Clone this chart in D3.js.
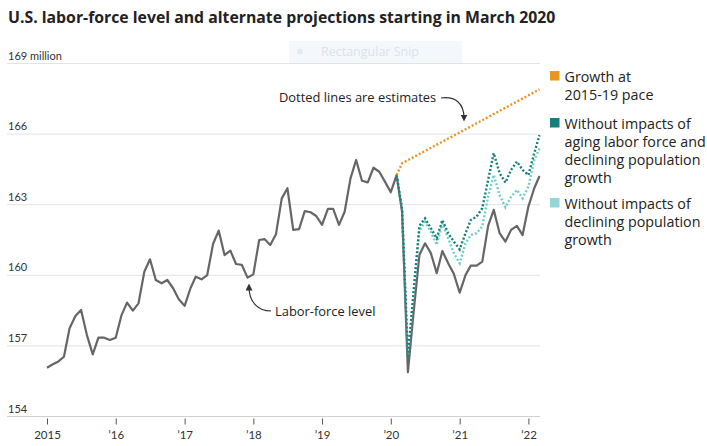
<!DOCTYPE html>
<html>
<head>
<meta charset="utf-8">
<script src="https://cdn.jsdelivr.net/npm/d3@7"></script>
<style>
  body { margin: 0; background: #fff; }
  svg { font-family: 'Open Sans', Lato, sans-serif; }
</style>
</head>
<body>
<div id="canvas"></div>
<script>
// data (monthly, Jan 2015 - Mar 2022, millions)
const startMonth = new Date(2015, 0, 1);

const laborForce = [
  156.07, 156.22, 156.33, 156.54, 157.75, 158.27, 158.53, 157.46, 156.64, 157.35, 157.35, 157.25,
  157.35, 158.31, 158.84, 158.50, 158.81, 160.15, 160.68, 159.80, 159.66, 159.80, 159.45, 158.98,
  158.70, 159.45, 159.94, 159.83, 160.01, 161.33, 161.90, 160.86, 161.05, 160.48, 160.44, 159.90,
  160.04, 161.50, 161.54, 161.29, 161.74, 163.27, 163.70, 161.93, 161.96, 162.73, 162.68, 162.52,
  162.14, 162.82, 162.82, 162.14, 162.70, 164.12, 164.90, 164.02, 163.95, 164.57, 164.40, 163.98,
  163.53, 164.26, 162.70, 155.88, 158.40, 160.86, 161.36, 160.94, 160.09, 161.03, 160.51, 160.06,
  159.26, 160.01, 160.41, 160.41, 160.58, 162.10, 162.78, 161.79, 161.43, 161.93, 162.10, 161.71,
  162.92, 163.70, 164.22
];

// projections start in Feb 2020 (month index 61)
const projStart = 61;

const noAgingNoPop = [
  164.26, 162.80, 156.50, 159.30, 162.10, 162.42, 162.00, 161.57, 162.35, 161.79, 161.43, 161.10,
  161.79, 162.35, 162.49, 162.85, 164.05, 165.19, 164.34, 163.94, 164.48, 164.83, 164.48, 164.26,
  165.19, 165.96
];

const noPop = [
  164.26, 162.80, 156.50, 159.20, 161.90, 162.27, 161.85, 161.29, 162.21, 161.57, 160.94, 160.51,
  161.36, 161.71, 161.79, 162.07, 163.34, 164.26, 163.41, 162.89, 163.34, 163.63, 163.27, 163.77,
  164.90, 165.40
];

// growth at 2015-19 pace (month index, value)
const paceMonths = [61, 62, 72, 86];
const paceValues = [164.26, 164.76, 166.07, 167.90];

const yTicks = [154, 157, 160, 163, 166, 169];
const xTickYears = [2015, 2016, 2017, 2018, 2019, 2020, 2021, 2022];

const legendItems = [
  { color: '#e8961f', lines: ['Growth at', '2015-19 pace'] },
  { color: '#187d7b', lines: ['Without impacts of', 'aging labor force and', 'declining population', 'growth'] },
  { color: '#92d6d8', lines: ['Without impacts of', 'declining population', 'growth'] }
];

const monthDate = m => d3.timeMonth.offset(startMonth, m);

const width = 707;
const height = 446;

const svg = d3.select('#canvas')
  .append('svg')
  .attr('width', width)
  .attr('height', height);

// scales
const x = d3.scaleTime()
  .domain([new Date(2015, 0, 1), new Date(2022, 0, 1)])
  .range([47, 528.4]);
const y = d3.scaleLinear()
  .domain([154, 169])
  .range([416.5, 63.5]);

// title
svg.append('text')
  .attr('x', 8)
  .attr('y', 22.5)
  .attr('font-size', 15.8)
  .attr('font-weight', 'bold')
  .attr('fill', '#222')
  .text('U.S. labor-force level and alternate projections starting in March 2020');

// faint screen-snip overlay seen in the original
const snip = svg.append('g');
snip.append('rect')
  .attr('x', 289).attr('y', 41).attr('width', 173).attr('height', 22)
  .attr('fill', '#f4f8fd');
snip.append('circle')
  .attr('cx', 300).attr('cy', 51.5).attr('r', 3)
  .attr('fill', '#e4eaf0');
snip.append('text')
  .attr('x', 321).attr('y', 56)
  .attr('font-size', 12.5)
  .attr('fill', '#dde2e8')
  .text('Rectangular Snip');

// gridlines + y labels
const grid = svg.append('g').attr('class', 'grid');
grid.selectAll('line')
  .data(yTicks)
  .enter()
  .append('line')
    .attr('x1', 7)
    .attr('x2', 540)
    .attr('y1', d => y(d))
    .attr('y2', d => y(d))
    .attr('stroke', d => d === 154 ? '#d0d0d0' : '#e3e3e3')
    .attr('stroke-width', 1);

grid.selectAll('text')
  .data(yTicks)
  .enter()
  .append('text')
    .attr('x', 8)
    .attr('y', d => y(d) - 4)
    .attr('font-family', 'Lato, sans-serif')
    .attr('font-size', 11)
    .attr('fill', '#333')
    .text(d => d === 169 ? d + ' million' : d);

// x axis
const xAxis = d3.axisBottom(x)
  .tickValues(xTickYears.map(yr => new Date(yr, 0, 1)))
  .tickSize(6)
  .tickPadding(6)
  .tickFormat(d => d.getFullYear() === 2015 ? '2015' : '\u2019' + String(d.getFullYear()).slice(2));

const xAxisGroup = svg.append('g')
  .attr('transform', `translate(0, ${y(154) + 2})`)
  .call(xAxis);
xAxisGroup.select('.domain').remove();
xAxisGroup.selectAll('line').attr('stroke', '#555');
xAxisGroup.selectAll('text')
  .attr('font-size', 11.5)
  .attr('font-family', 'Lato, sans-serif')
  .attr('fill', '#333');

// line generator
const line = d3.line()
  .x(d => x(d.date))
  .y(d => y(d.value));

const toSeries = (values, offset) => values.map((v, i) => ({ date: monthDate(offset + i), value: v }));

// labor-force level
svg.append('path')
  .datum(toSeries(laborForce, 0))
  .attr('fill', 'none')
  .attr('stroke', '#666')
  .attr('stroke-width', 2.2)
  .attr('stroke-linejoin', 'round')
  .attr('d', line);

// projections (dotted)
const dotted = (data, color) => svg.append('path')
  .datum(data)
  .attr('fill', 'none')
  .attr('stroke', color)
  .attr('stroke-width', 2.4)
  .attr('stroke-dasharray', '2,2')
  .attr('d', line);

dotted(toSeries(noPop, projStart), '#6fcdca');
dotted(toSeries(noAgingNoPop, projStart), '#187d7b');
dotted(paceMonths.map((m, i) => ({ date: monthDate(m), value: paceValues[i] })), '#e8961f');

// arrowhead marker
svg.append('defs')
  .append('marker')
    .attr('id', 'arrow')
    .attr('viewBox', '0 0 10 10')
    .attr('refX', 5)
    .attr('refY', 5)
    .attr('markerWidth', 7)
    .attr('markerHeight', 7)
    .attr('orient', 'auto-start-reverse')
    .attr('markerUnits', 'userSpaceOnUse')
  .append('path')
    .attr('d', 'M0,0 L10,5 L0,10 Z')
    .attr('fill', '#333');

// annotations
svg.append('text')
  .attr('x', 279)
  .attr('y', 101.5)
  .attr('font-size', 12.9)
  .attr('fill', '#222')
  .text('Dotted lines are estimates');

svg.append('path')
  .attr('d', 'M441,98 C456,96 464,104 464,118')
  .attr('fill', 'none')
  .attr('stroke', '#333')
  .attr('stroke-width', 1.2)
  .attr('marker-end', 'url(#arrow)');

svg.append('text')
  .attr('x', 275)
  .attr('y', 316)
  .attr('font-size', 12.9)
  .attr('fill', '#222')
  .text('Labor-force level');

svg.append('path')
  .attr('d', 'M271,311 C258,311 249,302 249,287')
  .attr('fill', 'none')
  .attr('stroke', '#333')
  .attr('stroke-width', 1.2)
  .attr('marker-end', 'url(#arrow)');

// legend
const legendTops = [71, 118, 198];
const legend = svg.append('g').attr('class', 'legend');
legendItems.forEach((item, i) => {
  const g = legend.append('g')
    .attr('transform', `translate(550, ${legendTops[i]})`);
  g.append('rect')
    .attr('width', 9.5)
    .attr('height', 9.5)
    .attr('fill', item.color);
  g.selectAll('text')
    .data(item.lines)
    .enter()
    .append('text')
      .attr('x', 14.5)
      .attr('y', (d, j) => 10.5 + j * 18)
      .attr('font-size', 14.3)
      .attr('fill', '#222')
      .text(d => d);
});
</script>
</body>
</html>
